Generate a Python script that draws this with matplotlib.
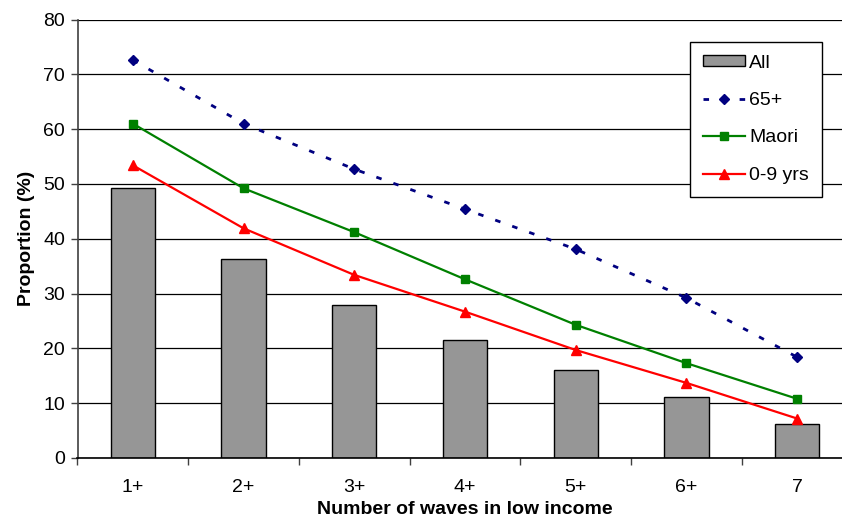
import numpy as np
import matplotlib.pyplot as plt
from matplotlib.ticker import FixedLocator, NullFormatter, FixedFormatter

plt.rcParams["font.family"] = ["Liberation Sans", "DejaVu Sans"]

waves = ["1+", "2+", "3+", "4+", "5+", "6+", "7"]
all_pct = [49.3, 36.3, 27.9, 21.6, 16.0, 11.1, 6.2]
age65_pct = [72.6, 61.0, 52.7, 45.4, 38.1, 29.2, 18.4]
maori_pct = [61.0, 49.2, 41.2, 32.6, 24.3, 17.3, 10.8]
kids_pct = [53.4, 41.9, 33.4, 26.7, 19.7, 13.7, 7.2]

x = np.arange(len(waves))

fig = plt.figure(figsize=(8.42, 5.20), dpi=100)
ax = fig.add_axes([77.5 / 842, 62 / 520, 775 / 842, 438.5 / 520])

bars = ax.bar(x, all_pct, width=0.4, color="#969696", edgecolor="black", linewidth=1.0,
              label="All", zorder=2)
l65, = ax.plot(x, age65_pct, color="#000080", linestyle=(0, (2, 4.5)), linewidth=2,
               marker="D", markersize=5.5, label="65+", zorder=3)
lmaori, = ax.plot(x, maori_pct, color="#008000", linewidth=1.6, marker="s", markersize=6,
                  label="Maori", zorder=3)
lkids, = ax.plot(x, kids_pct, color="#ff0000", linewidth=1.6, marker="^", markersize=6.5,
                 label="0-9 yrs", zorder=3)

ax.set_xlim(-0.5, len(waves) - 0.5)
ax.set_ylim(0, 80)
ax.set_yticks(range(0, 81, 10))
ax.yaxis.grid(True, color="black", linewidth=0.9, zorder=0)
ax.set_axisbelow(True)

# category boundaries carry the tick marks, labels sit between them
ax.xaxis.set_major_locator(FixedLocator(np.arange(-0.5, len(waves), 1.0)))
ax.xaxis.set_major_formatter(NullFormatter())
ax.xaxis.set_minor_locator(FixedLocator(x))
ax.xaxis.set_minor_formatter(FixedFormatter(waves))
ax.tick_params(axis="x", which="major", length=5, width=1, color="#404040")
ax.tick_params(axis="x", which="minor", length=0, pad=15, labelsize=14)
ax.tick_params(axis="y", length=5, width=1, color="#404040", labelsize=14, pad=4)

for side in ("top", "right"):
    ax.spines[side].set_visible(False)
ax.spines["left"].set_color("#404040")
ax.spines["left"].set_linewidth(1.2)
ax.spines["bottom"].set_color("black")
ax.spines["bottom"].set_linewidth(1.2)

ax.set_xlabel("Number of waves in low income", fontsize=14, fontweight="bold", labelpad=4)
ax.set_ylabel("Proportion (%)", fontsize=14, fontweight="bold", labelpad=6)

leg = ax.legend([bars, l65, lmaori, lkids], ["All", "65+", "Maori", "0-9 yrs"],
                loc="upper left", bbox_to_anchor=(612.5 / 775, 1 - 22.5 / 438.5),
                fontsize=14, frameon=True, fancybox=False, edgecolor="black",
                framealpha=1, handlelength=2.2, handleheight=0.5, handletextpad=0.2,
                labelspacing=1.05, borderpad=0.65, borderaxespad=0)
leg.get_frame().set_linewidth(1.0)

fig.savefig("out.png", dpi=100)
